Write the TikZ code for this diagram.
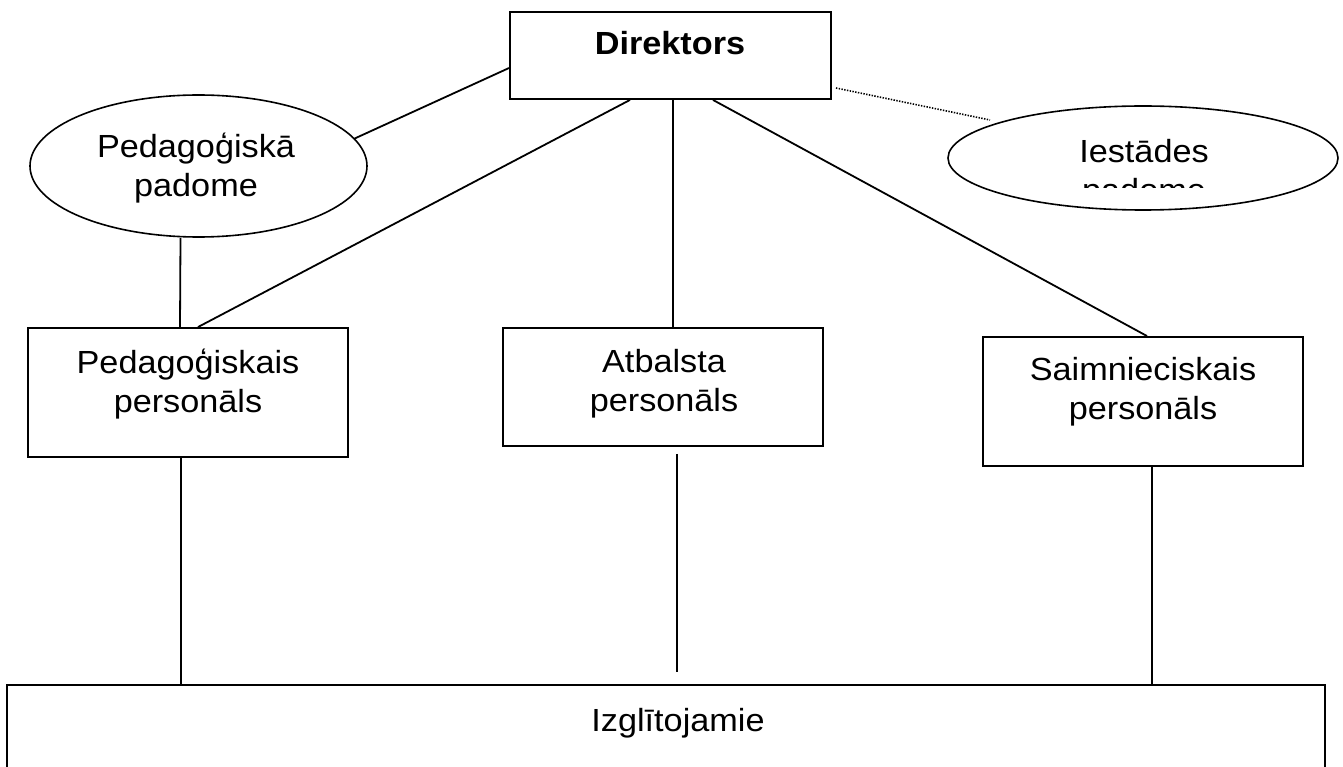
\documentclass[tikz,border=0pt]{standalone}
\usepackage{fontspec}
\setmainfont{Liberation Sans}[FakeStretch=1.07]
\usetikzlibrary{shapes.geometric}
\begin{document}
\begin{tikzpicture}[x=1pt,y=-1pt,
  box/.style={draw, line width=1.9pt, rectangle, inner sep=0pt},
  oval/.style={draw, line width=1.6pt, ellipse, inner sep=0pt},
  lbl/.style={font=\fontsize{32}{39}\selectfont, align=center, inner sep=0pt, anchor=north},
  conn/.style={line width=1.8pt},
  dots/.style={line width=1.6pt, dash pattern=on 1.4pt off 1.4pt}
]
\useasboundingbox (0,0) rectangle (1343,767);
\clip (0,0) rectangle (1343,767);
% boxes and ovals
\node[box, minimum width=321pt, minimum height=87pt] (dir) at (670.5,55.5) {};
\node[oval, minimum width=337pt, minimum height=142pt] (pp) at (198.5,166) {};
\node[oval, minimum width=390pt, minimum height=104pt] (is) at (1143,158) {};
\node[box, minimum width=320pt, minimum height=129pt] (pg) at (188,392.5) {};
\node[box, minimum width=320pt, minimum height=118pt] (ab) at (663,387) {};
\node[box, minimum width=320pt, minimum height=129pt] (sm) at (1143,401.5) {};
\node[box, minimum width=1318pt, minimum height=130pt] (iz) at (666,750) {};
% texts
\node[lbl, font=\fontsize{32}{39}\selectfont\bfseries] (tdir) at (670,26.7) {\strut Direktors};
\node[lbl] (tpp) at (196,130.2) {\strut Pedagoģiskā\\\strut padome};
\node[lbl] (tpg) at (188,345.7) {\strut Pedagoģiskais\\\strut personāls};
\node[lbl] (tab) at (664,344.7) {\strut Atbalsta\\\strut personāls};
\node[lbl] (tsm) at (1143,352.7) {\strut Saimnieciskais\\\strut personāls};
\node[lbl] (tiz) at (678,703.7) {\strut Izglītojamie};
\begin{scope}
  \clip (950,100) rectangle (1336,188);
  \node[lbl] (tis) at (1144,134.7) {\strut Iestādes\\\strut padome};
\end{scope}
% connectors
\coordinate (dotstart) at ([xshift=4pt, yshift=-32.5pt]dir.east);
\coordinate (dotend) at ([xshift=-153pt, yshift=38pt]is.center);
\draw[dots] (dotstart) -- (dotend);
\draw[conn] ([yshift=-12.5pt]dir.west) -- (pp.10);
\draw[conn] ([xshift=-40.5pt]dir.south) -- ([xshift=10pt]pg.north);
\draw[conn] ([xshift=2.5pt]dir.south) -- ([xshift=10pt]ab.north);
\draw[conn] ([xshift=42.5pt]dir.south) -- ([xshift=4pt]sm.north);
\draw[conn] ([xshift=-18pt]pp.south) -- ([xshift=-8pt]pg.north);
\coordinate (pgx) at ([xshift=-7pt]pg.south);
\coordinate (abx) at ([xshift=14pt]ab.south);
\coordinate (smx) at ([xshift=9pt]sm.south);
\draw[conn] (pgx) -- (pgx |- iz.north);
\draw[conn, shorten <=7pt, shorten >=12pt] (abx) -- (abx |- iz.north);
\draw[conn] (smx) -- (smx |- iz.north);
\end{tikzpicture}
\end{document}
